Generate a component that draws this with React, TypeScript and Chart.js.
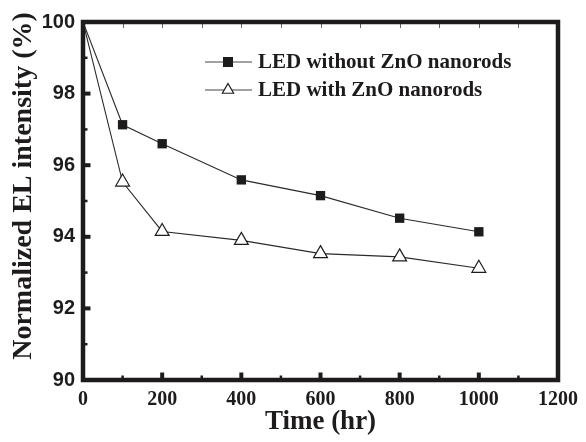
import React, { useEffect, useRef } from "react";
import { Chart, registerables } from "chart.js";

Chart.register(...registerables);

const times = [0, 100, 200, 400, 600, 800, 1000];
const withoutZnO = [100, 97.13, 96.6, 95.59, 95.15, 94.52, 94.14];
const withZnO = [100, 95.53, 94.15, 93.9, 93.53, 93.44, 93.12];
const seriesLabels = ["LED without ZnO nanorods", "LED with ZnO nanorods"];
const xTitle = "Time (hr)";
const yTitle = "Normalized EL intensity (%)";

const INK = "#1e1b1c";
const SERIF = "'Liberation Serif', 'Times New Roman', serif";

const framePlugin = {
  id: "elFrame",
  afterDraw(chart: any) {
    const ctx: CanvasRenderingContext2D = chart.ctx;
    const a = chart.chartArea;
    const xs = chart.scales.x;
    const ys = chart.scales.y;
    ctx.save();
    ctx.setLineDash([]);
    ctx.lineCap = "butt";
    // top ticks (thin)
    ctx.lineWidth = 1;
    ctx.strokeStyle = "#666";
    for (let v = 100; v < 1200; v += 100) {
      const px = Math.round(xs.getPixelForValue(v)) + 0.5;
      ctx.beginPath();
      ctx.moveTo(px, a.top);
      ctx.lineTo(px, a.top + 6);
      ctx.stroke();
    }
    ctx.strokeStyle = INK;
    // bottom ticks
    for (let v = 100; v < 1200; v += 100) {
      const major = v % 200 === 0;
      const px = xs.getPixelForValue(v);
      ctx.lineWidth = major ? 4 : 2.5;
      ctx.beginPath();
      ctx.moveTo(px, a.bottom);
      ctx.lineTo(px, a.bottom - (major ? 7.5 : 4.5));
      ctx.stroke();
    }
    // left ticks
    for (let v = 91; v < 100; v += 1) {
      const major = v % 2 === 0;
      const py = ys.getPixelForValue(v);
      ctx.lineWidth = major ? 4 : 2.5;
      ctx.beginPath();
      ctx.moveTo(a.left, py);
      ctx.lineTo(a.left + (major ? 7.5 : 4.5), py);
      ctx.stroke();
    }
    // frame
    ctx.lineWidth = 4.5;
    ctx.strokeStyle = INK;
    ctx.beginPath();
    ctx.rect(a.left, a.top, a.right - a.left, a.bottom - a.top);
    ctx.stroke();

    // legend
    const rows = [62, 90];
    chart.data.datasets.forEach((ds: any, i: number) => {
      const y = rows[i];
      ctx.strokeStyle = "#444";
      ctx.lineWidth = 1.2;
      ctx.beginPath();
      ctx.moveTo(205, y);
      ctx.lineTo(252, y);
      ctx.stroke();
      const cx = 228;
      if (i === 0) {
        ctx.fillStyle = INK;
        ctx.fillRect(cx - 5, y - 5, 10, 10);
      } else {
        const r = 6.5;
        ctx.fillStyle = "#fff";
        ctx.strokeStyle = INK;
        ctx.beginPath();
        ctx.moveTo(cx, y - r);
        ctx.lineTo(cx + r * 0.866, y + r * 0.5);
        ctx.lineTo(cx - r * 0.866, y + r * 0.5);
        ctx.closePath();
        ctx.fill();
        ctx.stroke();
      }
      ctx.fillStyle = INK;
      ctx.font = "bold 21px " + SERIF;
      ctx.textBaseline = "middle";
      ctx.textAlign = "left";
      ctx.fillText(ds.label, 258, y + 1);
    });

    // y title
    ctx.save();
    ctx.translate(24, 186);
    ctx.rotate(-Math.PI / 2);
    ctx.fillStyle = INK;
    ctx.font = "bold 28px " + SERIF;
    ctx.textAlign = "center";
    ctx.textBaseline = "middle";
    ctx.fillText(yTitle, 0, 0);
    ctx.restore();

    ctx.restore();
  },
};

export default function App() {
  const ref = useRef<HTMLCanvasElement>(null);
  useEffect(() => {
    if (!ref.current) return;
    const chart = new Chart(ref.current, {
      type: "scatter",
      data: {
        datasets: [
          {
            label: seriesLabels[0],
            data: times.map((t, i) => ({ x: t, y: withoutZnO[i] })),
            showLine: true,
            borderColor: "#2a2a2a",
            borderWidth: 1.1,
            pointStyle: "rect",
            pointRadius: times.map((t) => (t === 0 ? 0 : 6.6)),
            pointBackgroundColor: INK,
            pointBorderColor: INK,
            pointBorderWidth: 0,
          },
          {
            label: seriesLabels[1],
            data: times.map((t, i) => ({ x: t, y: withZnO[i] })),
            showLine: true,
            borderColor: "#2a2a2a",
            borderWidth: 1.1,
            pointStyle: "triangle",
            pointRadius: times.map((t) => (t === 0 ? 0 : 8)),
            pointBackgroundColor: "#fff",
            pointBorderColor: INK,
            pointBorderWidth: 1.2,
          },
        ],
      },
      options: {
        animation: false,
        responsive: false,
        events: [],
        layout: { padding: { top: 22, right: 22, left: 0, bottom: 0 } },
        plugins: {
          legend: { display: false },
          tooltip: { enabled: false },
        },
        scales: {
          x: {
            type: "linear",
            min: 0,
            max: 1200,
            grid: { display: false, drawTicks: false },
            border: { display: false },
            ticks: {
              stepSize: 200,
              padding: 8,
              color: INK,
              maxRotation: 0,
              callback: (v: any) => String(v),
              font: { family: SERIF, weight: "bold", size: 20 },
            },
            title: {
              display: true,
              text: xTitle,
              color: INK,
              padding: { top: 0, bottom: 4 },
              font: { family: SERIF, weight: "bold", size: 27 },
            },
            afterFit: (s: any) => {
              s.height = 62;
            },
          },
          y: {
            min: 90,
            max: 100,
            grid: { display: false, drawTicks: false },
            border: { display: false },
            ticks: {
              stepSize: 2,
              padding: 8,
              color: INK,
              callback: (v: any) => String(v),
              font: { family: "'Liberation Sans', Arial, sans-serif", weight: "bold", size: 20 },
            },
            title: { display: false },
            afterFit: (s: any) => {
              s.width = 83;
            },
          },
        },
      } as any,
      plugins: [framePlugin],
    });
    return () => chart.destroy();
  }, []);
  return (
    <div style={{ position: "absolute", left: 0, top: 0, width: 586, height: 442, background: "#fff" }}>
      <canvas ref={ref} width={586} height={442} style={{ display: "block" }} />
    </div>
  );
}
